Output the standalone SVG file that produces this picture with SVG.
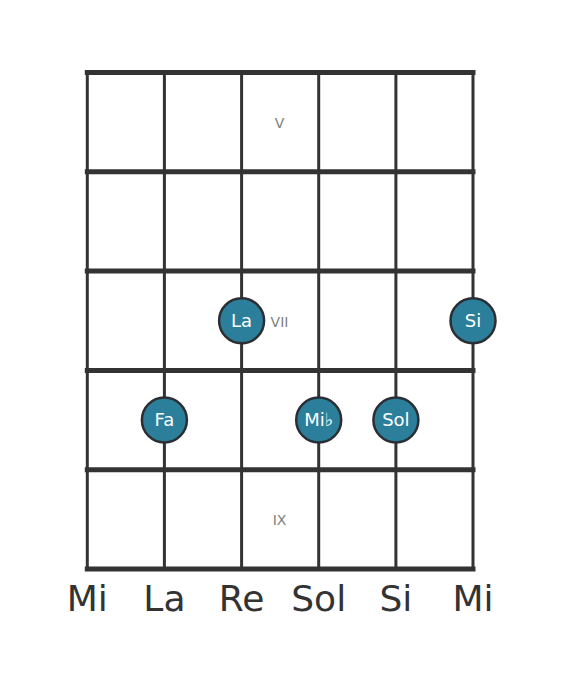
<svg xmlns="http://www.w3.org/2000/svg" width="568" height="682" viewBox="0 0 568 682">
<style>
.fret{stroke:#333;stroke-width:5;stroke-linecap:square}
.str{stroke:#333;stroke-width:3}
.note circle{fill:#2b7f9b;stroke:#2b2f33;stroke-width:2.5}
.note text{fill:#fff;font-family:"DejaVu Sans",sans-serif;font-size:18px;text-anchor:middle}
.pos{fill:#808080;font-family:"DejaVu Sans",sans-serif;font-size:14px;text-anchor:middle}
.name{fill:#333;font-family:"DejaVu Sans",sans-serif;font-size:36px;text-anchor:middle}
</style>
<rect width="568" height="682" fill="#fff"/>
<g id="grid">
<line class="str" x1="87.3" y1="72.5" x2="87.3" y2="569"/>
<line class="str" x1="164.4" y1="72.5" x2="164.4" y2="569"/>
<line class="str" x1="241.6" y1="72.5" x2="241.6" y2="569"/>
<line class="str" x1="318.7" y1="72.5" x2="318.7" y2="569"/>
<line class="str" x1="395.9" y1="72.5" x2="395.9" y2="569"/>
<line class="str" x1="473" y1="72.5" x2="473" y2="569"/>
<line class="fret" x1="87.3" y1="72.5" x2="473" y2="72.5"/>
<line class="fret" x1="87.3" y1="171.8" x2="473" y2="171.8"/>
<line class="fret" x1="87.3" y1="271.1" x2="473" y2="271.1"/>
<line class="fret" x1="87.3" y1="370.4" x2="473" y2="370.4"/>
<line class="fret" x1="87.3" y1="469.7" x2="473" y2="469.7"/>
<line class="fret" x1="87.3" y1="569" x2="473" y2="569"/>
</g>
<g id="positions">
<text class="pos" x="279.5" y="128">V</text>
<text class="pos" x="279.5" y="327">VII</text>
<text class="pos" x="279.5" y="525">IX</text>
</g>
<g id="note-la" class="note"><circle cx="241.6" cy="320.8" r="22.5"/><text x="241.6" y="327">La</text></g>
<g id="note-si" class="note"><circle cx="473" cy="320.8" r="22.5"/><text x="473" y="327">Si</text></g>
<g id="note-fa" class="note"><circle cx="164.4" cy="420" r="22.5"/><text x="164.4" y="426.3">Fa</text></g>
<g id="note-mib" class="note"><circle cx="318.7" cy="420" r="22.5"/><text x="318.7" y="426.3">Mi♭</text></g>
<g id="note-sol" class="note"><circle cx="395.9" cy="420" r="22.5"/><text x="395.9" y="426.3">Sol</text></g>
<g id="strings">
<text class="name" x="87.3" y="611">Mi</text>
<text class="name" x="164.4" y="611">La</text>
<text class="name" x="241.6" y="611">Re</text>
<text class="name" x="318.7" y="611">Sol</text>
<text class="name" x="395.9" y="611">Si</text>
<text class="name" x="473" y="611">Mi</text>
</g>
</svg>
